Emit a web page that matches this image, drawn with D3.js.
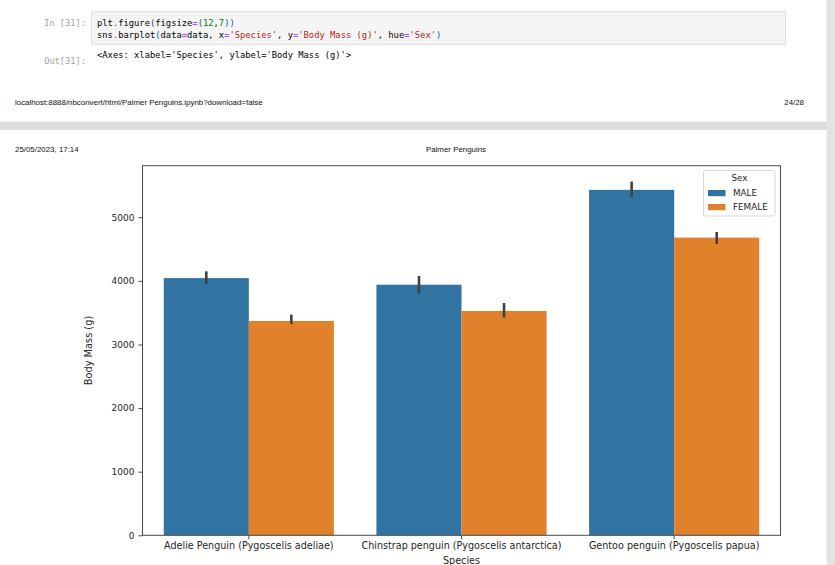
<!DOCTYPE html>
<html>
<head>
<meta charset="utf-8">
<script src="https://cdn.jsdelivr.net/npm/d3@7"></script>
<style>
  body { margin: 0; background: #fff; }
  svg { display: block; }
</style>
</head>
<body>
<svg id="page" width="835" height="565"></svg>
<script>
// values
var species = ["Adelie Penguin (Pygoscelis adeliae)", "Chinstrap penguin (Pygoscelis antarctica)", "Gentoo penguin (Pygoscelis papua)"]
var sexes = ["MALE", "FEMALE"]
var maleMeans = [4043, 3939, 5430]
var femaleMeans = [3369, 3527, 4680]
var maleLow = [3955, 3800, 5315]
var maleHigh = [4150, 4077, 5560]
var femaleLow = [3320, 3421, 4580]
var femaleHigh = [3470, 3652, 4769]
var yTicks = [0, 1000, 2000, 3000, 4000, 5000]
var colors = ["#3274a1", "#e1812c"]

var svg = d3.select("#page")

// --- notebook page decoration ---
function drawPageChrome() {
    svg.append("rect").attr("x", 0).attr("y", 121.7).attr("width", 835).attr("height", 8.3).attr("fill", "#dedede")
    svg.append("rect").attr("x", 826.5).attr("y", 0).attr("width", 8.5).attr("height", 565).attr("fill", "#e3e3e3")

    svg.append("rect")
        .attr("x", 91.5).attr("y", 11.7).attr("width", 694).attr("height", 32.6)
        .attr("fill", "#f5f5f5").attr("style", "stroke: #e0e0e0; stroke-width: 1")

    var mono = "'DejaVu Sans Mono', monospace"
    var prompts = [["In [31]:", 26], ["Out[31]:", 64]]
    prompts.forEach(function (p) {
        svg.append("text").attr("x", 86).attr("y", p[1]).attr("text-anchor", "end")
            .attr("font-family", mono).attr("font-size", 8.7).attr("fill", "#a0a0a0").text(p[0])
    })

    var line1 = [["plt", "#000"], [".", "#aa22ff"], ["figure", "#000"], ["(", "#0055aa"], ["figsize", "#000"], ["=", "#aa22ff"],
        ["(", "#0055aa"], ["12", "#008000"], [",", "#000"], ["7", "#008000"], [")", "#0055aa"], [")", "#0055aa"]]
    var line2 = [["sns", "#000"], [".", "#aa22ff"], ["barplot", "#000"], ["(", "#0055aa"], ["data", "#000"], ["=", "#aa22ff"], ["data", "#000"],
        [", x", "#000"], ["=", "#aa22ff"], ["'Species'", "#ba2121"], [", y", "#000"], ["=", "#aa22ff"], ["'Body Mass (g)'", "#ba2121"],
        [", hue", "#000"], ["=", "#aa22ff"], ["'Sex'", "#ba2121"], [")", "#0055aa"]]
    ;[[line1, 26], [line2, 37.5]].forEach(function (l) {
        var t = svg.append("text").attr("x", 97).attr("y", l[1]).attr("font-family", mono).attr("font-size", 8.8)
            .attr("xml:space", "preserve")
        l[0].forEach(function (tok) { t.append("tspan").attr("fill", tok[1]).text(tok[0]) })
    })
    svg.append("text").attr("x", 97).attr("y", 57.5).attr("font-family", mono).attr("font-size", 8.8)
        .attr("fill", "#000").text("<Axes: xlabel='Species', ylabel='Body Mass (g)'>")

    var sans = "'Liberation Sans', Arial, sans-serif"
    svg.append("text").attr("x", 15).attr("y", 104.5).attr("font-family", sans).attr("font-size", 7.9)
        .attr("fill", "#111").text("localhost:8888/nbconvert/html/Palmer Penguins.ipynb?download=false")
    svg.append("text").attr("x", 804).attr("y", 104.5).attr("text-anchor", "end").attr("font-family", sans).attr("font-size", 7.9)
        .attr("fill", "#111").text("24/28")
    svg.append("text").attr("x", 15).attr("y", 152.3).attr("font-family", sans).attr("font-size", 7.9)
        .attr("fill", "#111").text("25/05/2023, 17:14")
    svg.append("text").attr("x", 456).attr("y", 152.3).attr("text-anchor", "middle").attr("font-family", sans).attr("font-size", 7.9)
        .attr("fill", "#111").text("Palmer Penguins")
}

// --- the barplot ---
function drawBarplot() {
    var left = 142.5, right = 780.5, top = 165.7, bottom = 535.3
    var font = "'DejaVu Sans', sans-serif"

    var x = d3.scaleBand().domain(species).range([left, right]).paddingInner(0.2).paddingOuter(0.1)
    var xSub = d3.scaleBand().domain(sexes).range([0, x.bandwidth()])
    var y = d3.scaleLinear().domain([0, 5810]).range([bottom, top])

    var series = [
        { sex: "MALE", means: maleMeans, low: maleLow, high: maleHigh },
        { sex: "FEMALE", means: femaleMeans, low: femaleLow, high: femaleHigh }
    ]

    var plot = svg.append("g")
    series.forEach(function (s, si) {
        var g = plot.append("g")
        g.selectAll("rect").data(species).enter().append("rect")
            .attr("x", function (d) { return x(d) + xSub(s.sex) })
            .attr("y", function (d, i) { return y(s.means[i]) })
            .attr("width", xSub.bandwidth())
            .attr("height", function (d, i) { return y(0) - y(s.means[i]) })
            .attr("fill", colors[si])
        g.selectAll("line").data(species).enter().append("line")
            .attr("x1", function (d) { return x(d) + xSub(s.sex) + xSub.bandwidth() / 2 })
            .attr("x2", function (d) { return x(d) + xSub(s.sex) + xSub.bandwidth() / 2 })
            .attr("y1", function (d, i) { return y(s.low[i]) })
            .attr("y2", function (d, i) { return y(s.high[i]) })
            .attr("stroke", "#424242").attr("stroke-width", 2.6)
    })

    var yAxis = svg.append("g").attr("transform", "translate(" + left + ",0)")
        .call(d3.axisLeft(y).tickValues(yTicks).tickSize(4).tickPadding(4).tickFormat(d3.format("d")))
    var xAxis = svg.append("g").attr("transform", "translate(0," + bottom + ")")
        .call(d3.axisBottom(x).tickSize(4).tickPadding(3))
    ;[yAxis, xAxis].forEach(function (a) {
        a.select(".domain").remove()
        a.selectAll(".tick line").attr("stroke", "#333").attr("stroke-width", 0.9)
        a.selectAll(".tick text").attr("font-family", font).attr("fill", "#262626")
    })
    yAxis.selectAll(".tick text").attr("font-size", 9)
    xAxis.selectAll(".tick text").attr("font-size", 9.6)

    svg.append("rect").attr("x", left).attr("y", top).attr("width", right - left).attr("height", bottom - top)
        .attr("fill", "none").attr("style", "stroke: #4a4a4a; stroke-width: 1")

    svg.append("text").attr("x", (left + right) / 2).attr("y", 564).attr("text-anchor", "middle")
        .attr("font-family", font).attr("font-size", 9.6).attr("fill", "#262626").text("Species")
    svg.append("text").attr("transform", "translate(91.5," + (top + bottom) / 2 + ") rotate(-90)").attr("text-anchor", "middle")
        .attr("font-family", font).attr("font-size", 9.8).attr("fill", "#262626").text("Body Mass (g)")

    // legend
    var legend = svg.append("g").attr("transform", "translate(703.5,170.5)")
    legend.append("rect").attr("width", 71.5).attr("height", 45.5).attr("rx", 2)
        .attr("fill", "#fff").attr("fill-opacity", 0.8).attr("style", "stroke: #d6d6d6; stroke-width: 1")
    legend.append("text").attr("x", 36).attr("y", 10.5).attr("text-anchor", "middle")
        .attr("font-family", font).attr("font-size", 8.8).attr("fill", "#262626").text("Sex")
    sexes.forEach(function (s, i) {
        legend.append("rect").attr("x", 4.5).attr("y", 19.5 + i * 14).attr("width", 17.5).attr("height", 6.2).attr("fill", colors[i])
        legend.append("text").attr("x", 29.5).attr("y", 25.8 + i * 14)
            .attr("font-family", font).attr("font-size", 8.8).attr("fill", "#262626").text(s)
    })
}

drawPageChrome()
drawBarplot()
</script>
</body>
</html>
